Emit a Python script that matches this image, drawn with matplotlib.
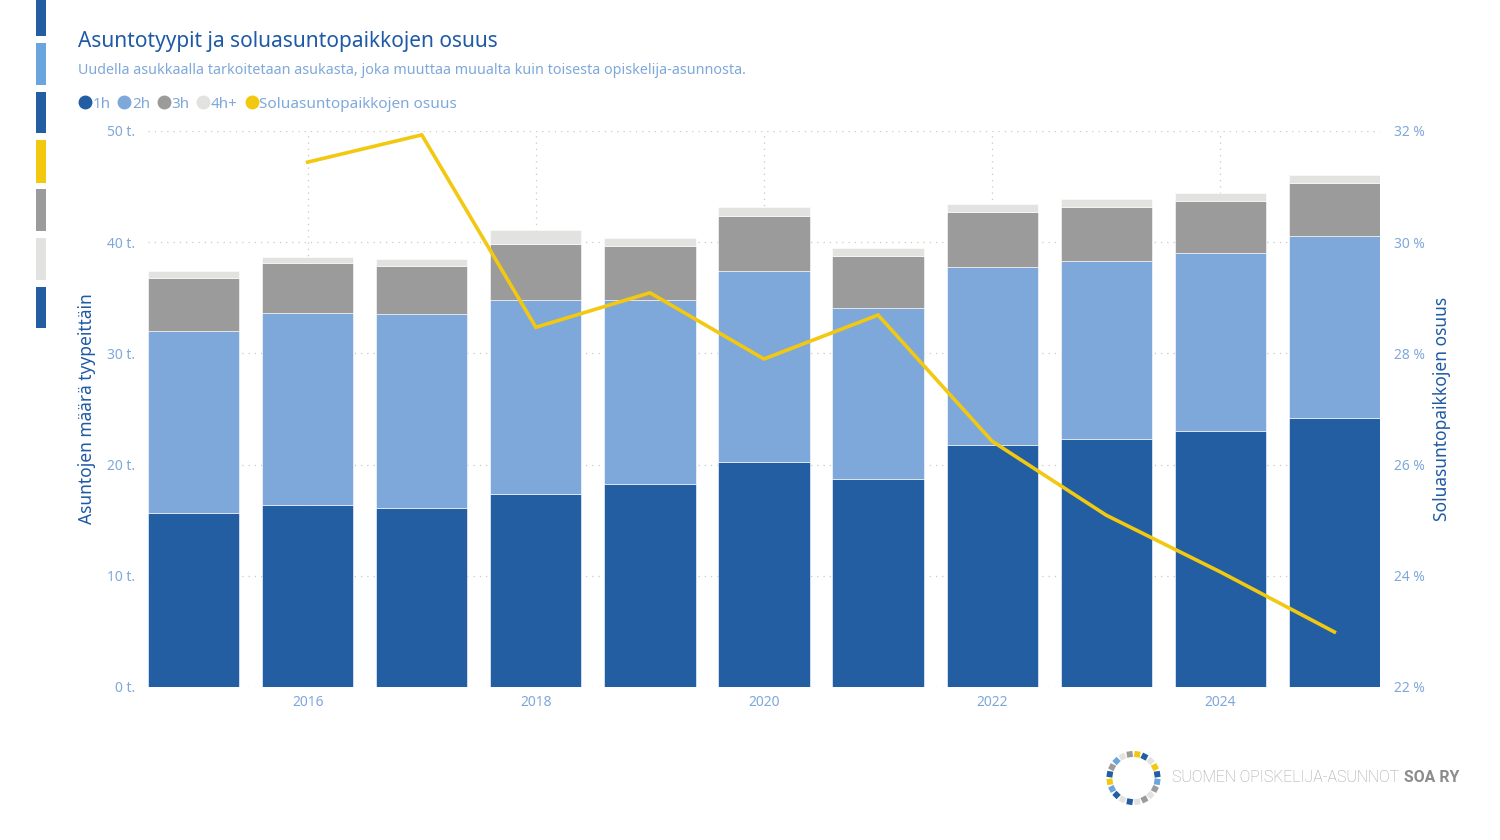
import numpy as np
import matplotlib.pyplot as plt
from matplotlib.lines import Line2D
from matplotlib.patches import Rectangle

plt.rcParams['font.family'] = ['Noto Sans', 'DejaVu Sans']

years = [2015, 2016, 2017, 2018, 2019, 2020, 2021, 2022, 2023, 2024, 2025]
h1 = [15.65, 16.4, 16.1, 17.4, 18.3, 20.2, 18.7, 21.8, 22.3, 23.0, 24.2]
h2 = [16.35, 17.2, 17.4, 17.4, 16.5, 17.2, 15.4, 16.0, 16.0, 16.0, 16.4]
h3 = [4.8, 4.5, 4.4, 5.0, 4.9, 5.0, 4.7, 4.9, 4.9, 4.7, 4.7]
h4 = [0.6, 0.6, 0.6, 1.3, 0.7, 0.8, 0.7, 0.7, 0.7, 0.7, 0.7]
share_years = [2016, 2017, 2018, 2019, 2020, 2021, 2022, 2023, 2024, 2025]
share = [31.44, 31.93, 28.47, 29.09, 27.90, 28.69, 26.42, 25.09, 24.07, 22.99]

C1 = '#235EA2'
C2 = '#7FA8DA'
C3 = '#9B9B9B'
C4 = '#E2E2E0'
CY = '#F2C811'
CL = '#6AA6DD'
TICK = '#7FA8DA'
DARK = '#1F5AA6'

fig = plt.figure(figsize=(15, 8.4), dpi=100)
ax = fig.add_axes([148 / 1500, 1 - 687 / 840, (1380 - 148) / 1500, (687 - 131) / 840])
ax2 = ax.twinx()

x = np.array(years)
bottom = np.zeros(len(years))
for vals, col in [(h1, C1), (h2, C2), (h3, C3), (h4, C4)]:
    ax.bar(x, vals, width=0.8, bottom=bottom, color=col,
           edgecolor='white', linewidth=0.4, zorder=2)
    bottom += np.array(vals)

ax2.plot(share_years, share, color=CY, linewidth=2.6, zorder=3,
         solid_joinstyle='miter')

ax.set_xlim(2014.6, 2025.4)
ax.set_ylim(0, 50)
ax2.set_ylim(22, 32)
ax.set_yticks([0, 10, 20, 30, 40, 50])
ax.set_yticklabels([f'{v} t.' for v in [0, 10, 20, 30, 40, 50]])
ax2.set_yticks([22, 24, 26, 28, 30, 32])
ax2.set_yticklabels([f'{v} %' for v in [22, 24, 26, 28, 30, 32]])
ax.set_xticks([2016, 2018, 2020, 2022, 2024])

for a in (ax, ax2):
    for s in a.spines.values():
        s.set_visible(False)
    a.tick_params(length=0, colors=TICK, labelsize=10)
ax.tick_params(axis='y', pad=9)
ax2.tick_params(axis='y', pad=10)
ax.tick_params(axis='x', pad=6)

ax.grid(True, color='#C8C8C8', linestyle=(0, (1, 4)), linewidth=0.9, zorder=0)
ax.set_axisbelow(True)
ax.set_zorder(1)
ax2.set_zorder(2)
ax.patch.set_visible(False)
ax2.patch.set_visible(False)

ax.set_ylabel('Asuntojen määrä tyypeittäin', color=DARK, fontsize=12.5, labelpad=8)
ax2.set_ylabel('Soluasuntopaikkojen osuus', color=DARK, fontsize=12.5, labelpad=6)

fig.text(78 / 1500, 1 - 41 / 840, 'Asuntotyypit ja soluasuntopaikkojen osuus',
         color=DARK, fontsize=15, va='center', ha='left')
fig.text(78 / 1500, 1 - 70 / 840,
         'Uudella asukkaalla tarkoitetaan asukasta, joka muuttaa muualta kuin toisesta opiskelija-asunnosta.',
         color=TICK, fontsize=10.3, va='center', ha='left')

handles = [Line2D([], [], marker='o', linestyle='', markersize=9, color=c)
           for c in (C1, C2, C3, C4, CY)]
fig.legend(handles, ['1h', '2h', '3h', '4h+', 'Soluasuntopaikkojen osuus'],
           loc='center left', bbox_to_anchor=(65 / 1500, 1 - 104 / 840),
           ncol=5, frameon=False, handletextpad=0.1, columnspacing=0.5,
           labelcolor=TICK, fontsize=11, handlelength=0.8)

# decorative colour strip on the left
strip = [(0, 36, C1), (43, 85, CL), (92, 133, C1), (140, 183, CY),
         (189, 231, C3), (238, 280, C4), (287, 328, C1)]
for y0, y1, c in strip:
    fig.add_artist(Rectangle((36 / 1500, 1 - y1 / 840), 10 / 1500, (y1 - y0) / 840,
                             transform=fig.transFigure, color=c, linewidth=0))

# logo ring
logo_cols = [CY, C1, C4, CY, C1, CL, C3, C4, C3, C4,
             C1, C4, C1, CL, CY, C1, C3, CL, C4, C3]
cx, cy, r, sq = 1133.5, 778, 24, 6
for i, c in enumerate(logo_cols):
    ang = np.pi / 2 - 2 * np.pi * (i + 0.5) / len(logo_cols)
    px = cx + r * np.cos(ang)
    py = 840 - (cy - r * np.sin(ang))
    fig.add_artist(Rectangle((px - sq / 2, py - sq / 2), sq, sq,
                             angle=np.degrees(ang), rotation_point='center',
                             transform=None, color=c, linewidth=0))

t1 = fig.text(1172 / 1500, 1 - 778 / 840, 'SUOMEN OPISKELIJA-ASUNNOT', color='#A0A0A0',
              fontsize=11.4, va='center', ha='left', family='Roboto', fontweight='light')
fig.canvas.draw()
bb = t1.get_window_extent()
fig.text((bb.x1 + 5) / 1500, 1 - 778 / 840, 'SOA RY', color='#8C8C8C',
         fontsize=11.4, va='center', ha='left', family='Roboto', fontweight='bold')

fig.savefig('out.png', dpi=100)
